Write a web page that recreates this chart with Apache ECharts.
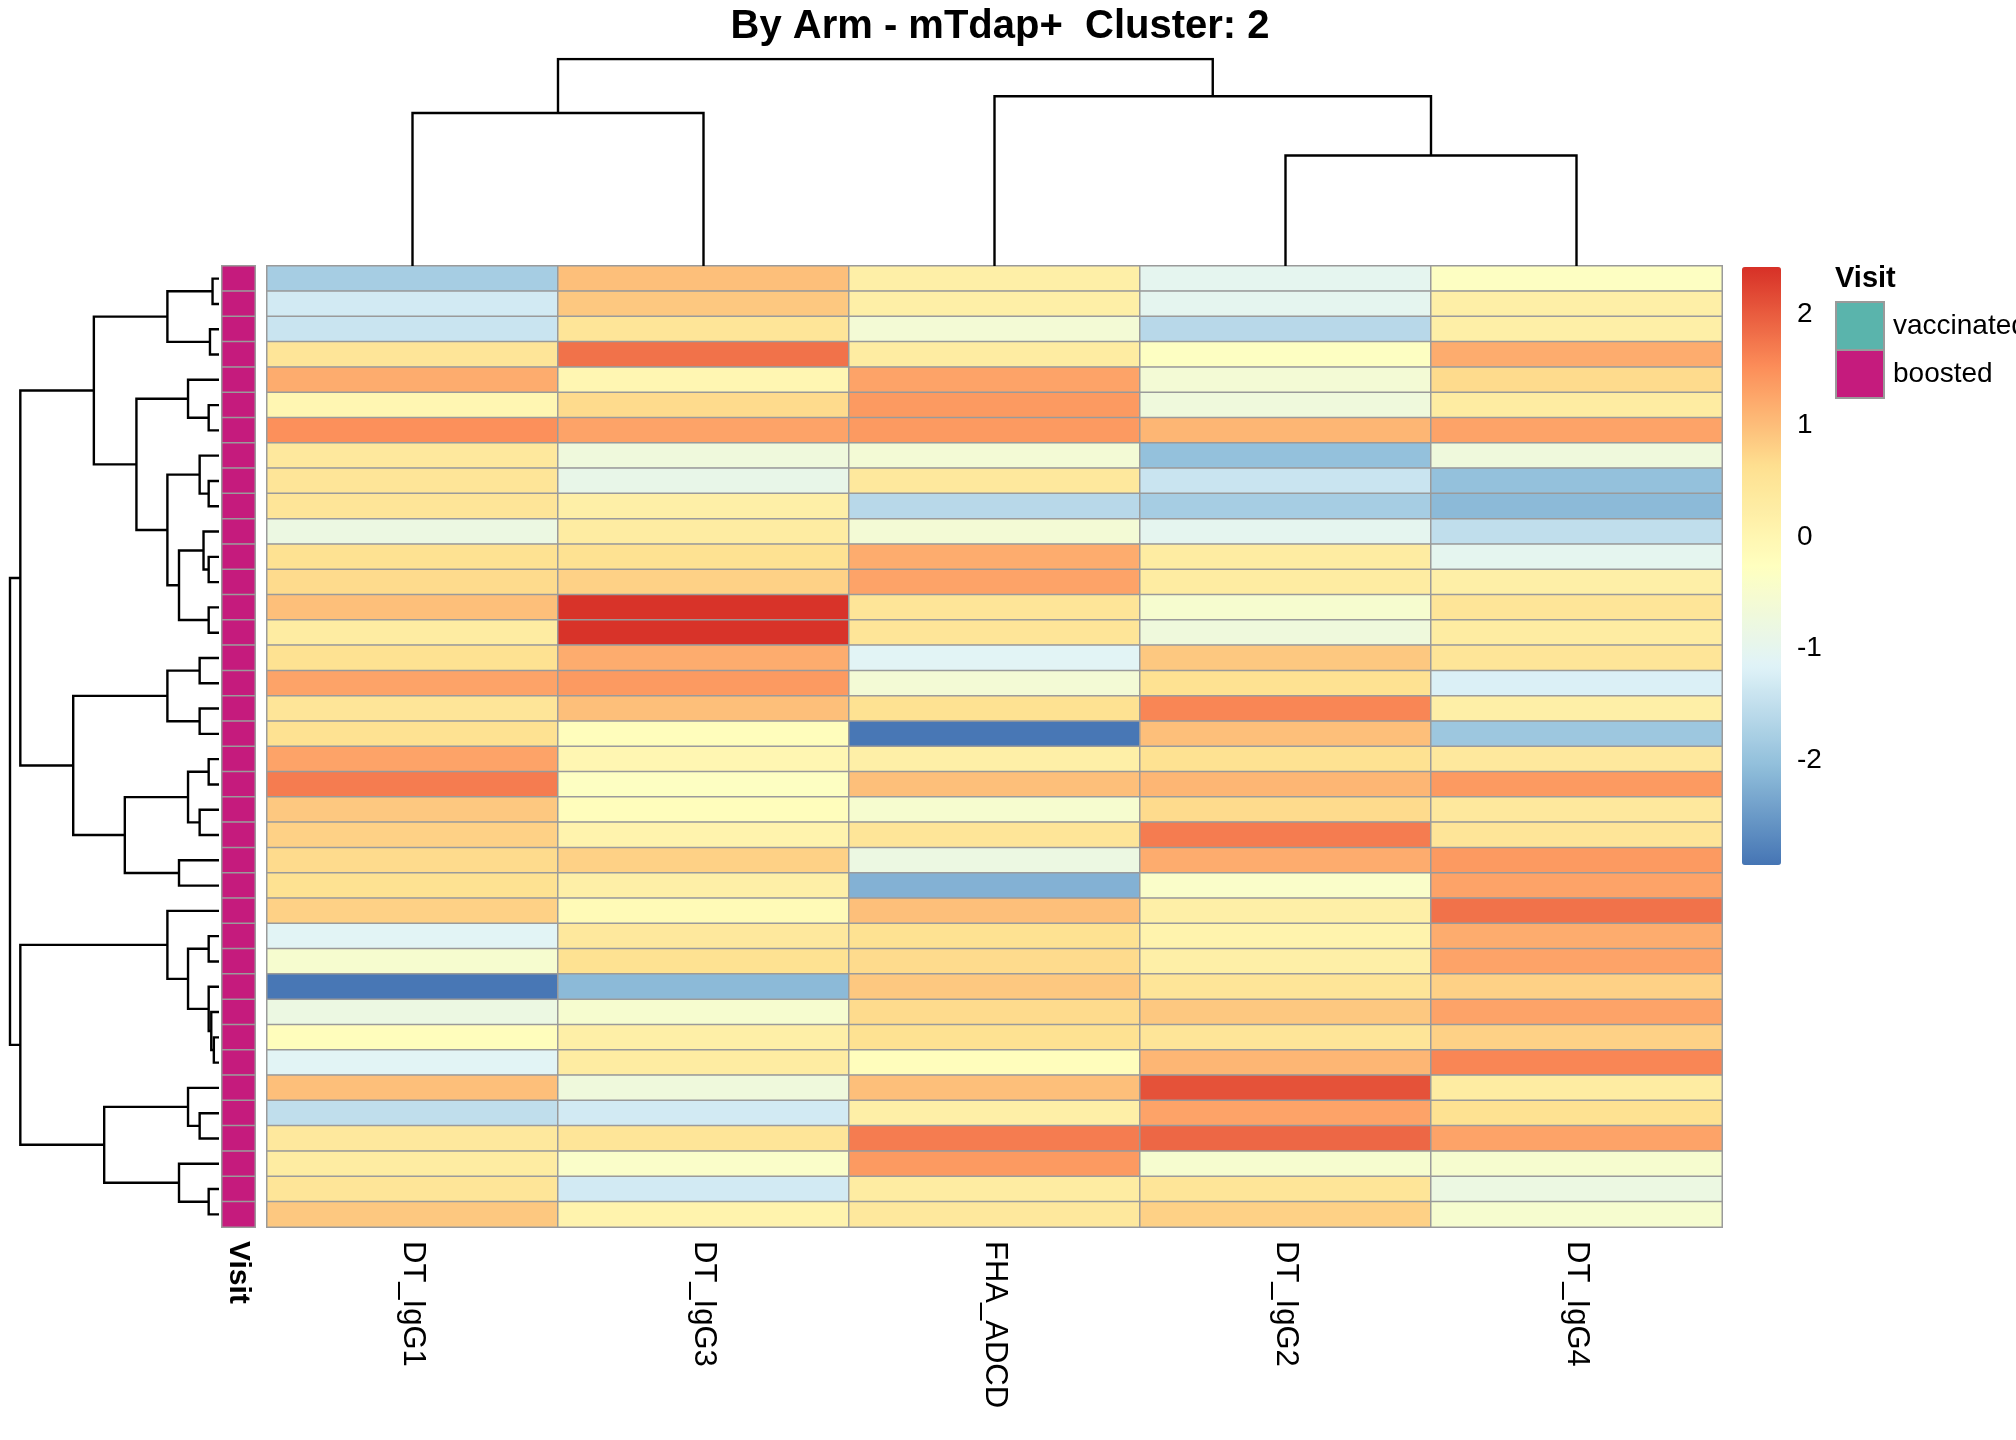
<!DOCTYPE html>
<html>
<head>
<meta charset="utf-8">
<script src="https://cdn.jsdelivr.net/npm/echarts@6/dist/echarts.min.js"></script>
<style>html,body{margin:0;background:#fff}#main{width:2016px;height:1440px}</style>
</head>
<body>
<div id="main"></div>
<script>
var columns = ['DT_IgG1', 'DT_IgG3', 'FHA_ADCD', 'DT_IgG2', 'DT_IgG4'];
// values per column, rows top to bottom
var DT_IgG1 = [-1.8,-1.3,-1.4,0.5,1.2,0,1.5,0.4,0.5,0.5,-0.8,0.6,0.7,1.0,0.3,0.6,1.3,0.5,0.6,1.3,1.7,0.9,0.8,0.7,0.6,0.8,-1.1,-0.5,-2.9,-0.8,-0.2,-1.1,1.0,-1.5,0.4,0.3,0.5,0.9];
var DT_IgG3 = [1.0,0.9,0.5,1.8,0,0.7,1.3,-0.7,-0.9,0.2,0.3,0.6,0.8,2.4,2.4,1.2,1.4,1.0,-0.2,0,-0.3,-0.2,0.1,0.8,0.2,-0.1,0.4,0.6,-2.1,-0.5,0.2,0.3,-0.7,-1.3,0.5,-0.4,-1.3,0.1];
var FHA_ADCD = [0.2,0.2,-0.6,0.3,1.3,1.4,1.4,-0.6,0.4,-1.6,-0.6,1.2,1.3,0.5,0.5,-1.1,-0.6,0.6,-2.9,0.2,1.0,-0.5,0.5,-0.8,-2.2,1.0,0.6,0.7,0.9,0.7,0.6,-0.2,1.0,0.2,1.7,1.4,0.3,0.4];
var DT_IgG2 = [-1.0,-1.0,-1.6,-0.3,-0.6,-0.7,1.1,-2.0,-1.4,-1.8,-1.0,0.3,0.3,-0.5,-0.7,0.9,0.6,1.6,1.0,0.6,1.1,0.7,1.7,1.2,-0.4,0.2,0.1,0.2,0.5,0.9,0.5,1.1,2.1,1.3,1.9,-0.5,0.5,0.8];
var DT_IgG4 = [-0.3,0.2,0.2,1.2,0.7,0.3,1.3,-0.7,-2.0,-2.1,-1.5,-1.0,0.2,0.5,0.3,0.5,-1.2,0.2,-1.9,0.4,1.4,0.4,0.5,1.4,1.3,1.8,1.2,1.3,0.8,1.3,0.8,1.6,0.3,0.6,1.3,-0.5,-0.8,-0.5];
var colValues = [DT_IgG1, DT_IgG3, FHA_ADCD, DT_IgG2, DT_IgG4];
var visit = [];
for (var r = 0; r < 38; r++) visit.push('boosted');
var legendTicks = [-2, -1, 0, 1, 2];
var scaleMin = -2.93, scaleMax = 2.43;

// linkage: [left, right, height]; leaves 0..n-1, new nodes numbered from n
var rowLinkage = [
  [0,1,5],[2,3,7],[38,39,40],[5,6,8],[4,41,24],[8,9,8],[7,43,15],[11,12,8],[10,45,12],
  [13,14,8],[46,47,31],[44,48,40],[42,49,64],[40,50,97],[15,16,15],[17,18,15],[52,53,40],
  [19,20,8],[21,22,15],[55,56,24],[23,24,31],[57,58,73],[54,59,113],[51,60,154],
  [26,27,8],[30,31,4],[29,63,6],[28,64,8],[62,65,24],[25,66,40],[33,34,15],[32,68,24],
  [36,37,8],[35,70,31],[69,71,89],[67,72,154],[61,73,162]
];
var colLinkage = [[0,1,119],[3,4,86],[2,6,132],[5,7,161]];

function dendroLines(link, n, horizontal) {
  var pos = [], h = [], segs = [];
  for (var i = 0; i < n; i++) { pos.push(i + 0.5); h.push(0); }
  link.forEach(function (m) {
    var a = m[0], b = m[1], ht = m[2];
    var pts = [[h[a], pos[a]], [ht, pos[a]], [ht, pos[b]], [h[b], pos[b]]];
    if (!horizontal) pts = pts.map(function (p) { return [p[1], p[0]]; });
    segs.push({ coords: pts });
    pos.push((pos[a] + pos[b]) / 2); h.push(ht);
  });
  return segs;
}

var heatData = [];
colValues.forEach(function (vals, c) {
  vals.forEach(function (v, r) { heatData.push([c, r, v]); });
});
var visitData = visit.map(function (v, r) { return [0, r, 1]; });
var rowCats = visit.map(function (v, r) { return 'r' + r; });

var font = 'Liberation Sans';
var chart = echarts.init(document.getElementById('main'));
chart.setOption({
  animation: false,
  textStyle: { fontFamily: font },
  title: { text: 'By Arm - mTdap+  Cluster: 2', left: 995, top: 2, textAlign: 'center',
    textStyle: { fontSize: 40, fontWeight: 'bold', color: '#000', fontFamily: font } },
  grid: [
    { left: 267, top: 266, width: 1455, height: 961 },   // heatmap
    { left: 222, top: 266, width: 33, height: 961 },     // annotation
    { left: 10, top: 266, width: 209, height: 961 },     // row dendrogram
    { left: 267, top: 59, width: 1455, height: 207 },    // col dendrogram
    { left: 1742, top: 266, width: 39, height: 598 }     // colour key axis
  ],
  xAxis: [
    { gridIndex: 0, type: 'category', data: columns, position: 'bottom',
      axisLine: { show: false }, axisTick: { show: false }, splitLine: { show: false },
      axisLabel: { rotate: -90, fontSize: 31, color: '#000', margin: 14, fontFamily: font } },
    { gridIndex: 1, type: 'category', data: ['Visit'], axisLine: { show: false }, axisTick: { show: false },
      axisLabel: { rotate: -90, fontSize: 30, fontWeight: 'bold', color: '#000', margin: 14, fontFamily: font } },
    { gridIndex: 2, type: 'value', min: 0, max: 162, inverse: true, show: false },
    { gridIndex: 3, type: 'value', min: 0, max: 5, show: false },
    { gridIndex: 4, type: 'value', show: false }
  ],
  yAxis: [
    { gridIndex: 0, type: 'category', data: rowCats, inverse: true, show: false },
    { gridIndex: 1, type: 'category', data: rowCats, inverse: true, show: false },
    { gridIndex: 2, type: 'value', min: 0, max: 38, inverse: true, show: false },
    { gridIndex: 3, type: 'value', min: 0, max: 161, show: false },
    { gridIndex: 4, type: 'value', min: scaleMin, max: scaleMax, position: 'right',
      axisLine: { show: false }, axisTick: { show: false }, splitLine: { show: false },
      axisLabel: { customValues: legendTicks, fontSize: 28, color: '#000', margin: 16, fontFamily: font } }
  ],
  visualMap: {
    type: 'continuous', seriesIndex: 0, min: scaleMin, max: scaleMax, calculable: false,
    left: 1727, top: 252, itemWidth: 39, itemHeight: 598, text: ['', ''], showLabel: false,
    inRange: { color: ['#4575B4', '#91BFDB', '#E0F3F8', '#FFFFBF', '#FEE090', '#FC8D59', '#D73027'] }
  },
  series: [
    { type: 'heatmap', xAxisIndex: 0, yAxisIndex: 0, data: heatData,
      itemStyle: { borderColor: '#9a9a9a', borderWidth: 1.5 } },
    { type: 'heatmap', xAxisIndex: 1, yAxisIndex: 1, data: visitData,
      itemStyle: { color: '#C51B7D', borderColor: '#9a9a9a', borderWidth: 1.5 } },
    { type: 'lines', coordinateSystem: 'cartesian2d', xAxisIndex: 2, yAxisIndex: 2, polyline: true,
      data: dendroLines(rowLinkage, 38, true), lineStyle: { color: '#000', width: 2.4, opacity: 1 } },
    { type: 'lines', coordinateSystem: 'cartesian2d', xAxisIndex: 3, yAxisIndex: 3, polyline: true,
      data: dendroLines(colLinkage, 5, false), lineStyle: { color: '#000', width: 2.4, opacity: 1 } },
    { type: 'scatter', xAxisIndex: 4, yAxisIndex: 4, data: [], silent: true }
  ],
  graphic: [
    { type: 'text', left: 1835, top: 264, style: { text: 'Visit', fontSize: 29, fontWeight: 'bold', fill: '#000', fontFamily: font } },
    { type: 'rect', shape: { x: 1836, y: 302, width: 48, height: 48 }, style: { fill: '#5AB4AC', stroke: '#9a9a9a', lineWidth: 2 } },
    { type: 'rect', shape: { x: 1836, y: 350, width: 48, height: 48 }, style: { fill: '#C51B7D', stroke: '#9a9a9a', lineWidth: 2 } },
    { type: 'text', left: 1893, top: 312, style: { text: 'vaccinated', fontSize: 28, fill: '#000', fontFamily: font } },
    { type: 'text', left: 1893, top: 360, style: { text: 'boosted', fontSize: 28, fill: '#000', fontFamily: font } }
  ]
});
</script>
</body>
</html>
